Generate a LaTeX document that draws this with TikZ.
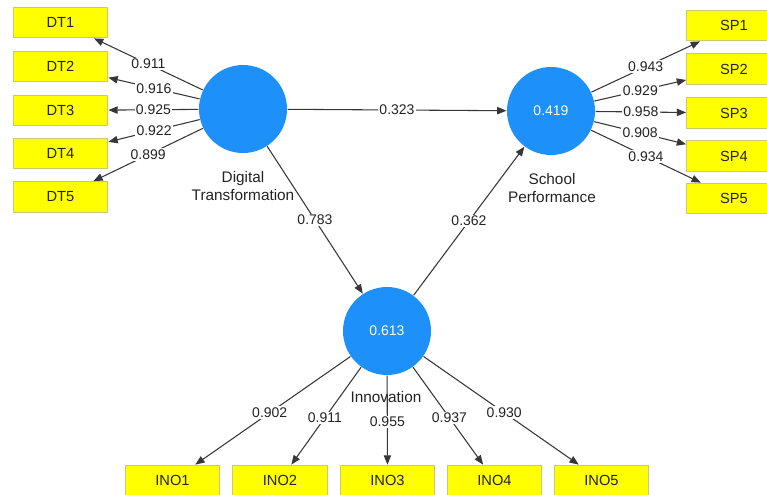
\documentclass[tikz,border=0pt]{standalone}
\usepackage{fontspec}
\setmainfont{Liberation Sans}
\usetikzlibrary{arrows.meta}

\definecolor{lvblue}{RGB}{30,144,250}
\definecolor{indyellow}{RGB}{255,255,0}
\definecolor{indedge}{RGB}{200,200,120}
\definecolor{pathgray}{RGB}{55,55,55}
\definecolor{txtgray}{RGB}{35,35,35}

\begin{document}
\begin{tikzpicture}[x=0.75pt,y=-0.75pt,line join=round,>={Triangle[length=7pt,width=5.5pt]},line width=0.8pt]
	\tikzset{every node/.style={font=\fontsize{10.5}{12}\selectfont,text=txtgray}}
	\tikzset{lv/.style={circle,fill=lvblue,minimum size=66pt,inner sep=0pt,text=white}}
	\tikzset{lvname/.style={align=center,font=\fontsize{11.5}{14}\selectfont}}
	\tikzset{ind/.style={rectangle,draw=indedge,fill=indyellow,minimum width=71pt,minimum height=23pt,inner sep=0pt,font=\fontsize{11}{12}\selectfont}}
	\tikzset{wt/.style={fill=white,inner sep=1pt}}
	\useasboundingbox (0,0) rectangle (767,494);
	\clip (0,0) rectangle (767,494);
	% latent variables
	\node[lv] (DT) at (243,109) {};
	\node[lv] (SP) at (551,111) {0.419};
	\node[lv] (INO) at (387,331) {0.613};
	\node[lvname] (DTname) at (243,186) {Digital\\Transformation};
	\node[lvname] (SPname) at (552,188) {School\\Performance};
	\node[lvname] (INOname) at (386,397) {Innovation};
	% indicators
	\foreach \i/\y in {1/22.5,2/66.5,3/110.5,4/153.5,5/197}
	\node[ind] (DT\i) at (60.5,\y) {DT\i};
	\foreach \i/\y in {1/25.5,2/69,3/113,4/156,5/198.5}
	\node[ind] (SP\i) at (734,\y) {SP\i};
	\foreach \i/\x in {1/172.5,2/280,3/387.5,4/494.5,5/601.5}
	\node[ind] (INO\i) at (\x,480.5) {INO\i};
	% outer loadings
	\foreach \i/\w in {1/0.911,2/0.916,3/0.925,4/0.922,5/0.899}
	\draw[->,pathgray] (DT) -- node[wt] {\w} (DT\i);
	\foreach \i/\w in {1/0.943,2/0.929,3/0.958,4/0.908,5/0.934}
	\draw[->,pathgray] (SP) -- node[wt] {\w} (SP\i);
	\foreach \i/\w in {1/0.902,2/0.911,3/0.955,4/0.937,5/0.930}
	\draw[->,pathgray] (INO) -- node[wt,pos=0.52] {\w} (INO\i);
	% path coefficients
	\draw[->,pathgray] (DT) -- node[wt] {0.323} (SP);
	\draw[->,pathgray] (DT) -- node[wt] {0.783} (INO);
	\draw[->,pathgray] (INO) -- node[wt] {0.362} (SP);
\end{tikzpicture}
\end{document}
